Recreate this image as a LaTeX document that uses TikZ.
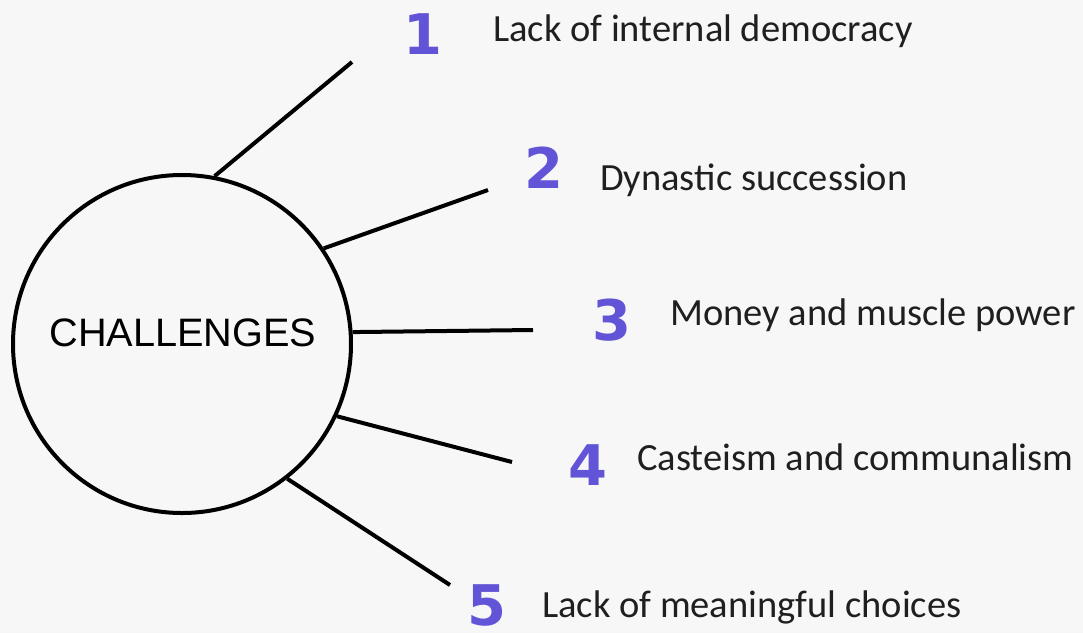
\documentclass[tikz,border=0pt]{standalone}
\usepackage{fontspec}
\setmainfont{Liberation Sans}
\newfontfamily\labelfont{Carlito}
\newfontfamily\numfont{DejaVu Sans}
\definecolor{bgc}{RGB}{247,247,247}
\definecolor{numc}{RGB}{98,84,214}
\begin{document}
\begin{tikzpicture}[x=1pt,y=-1pt,
  conn/.style={line width=4pt},
  numtxt/.style={text=numc,font=\numfont\bfseries\fontsize{56}{56}\selectfont,inner sep=0pt},
  itemtxt/.style={anchor=base west,inner sep=0pt,font=\labelfont\fontsize{38.5}{38.5}\selectfont,text=black!88}]
\fill[bgc] (0,0) rectangle (1083,633);
\useasboundingbox (0,0) rectangle (1083,633);
\node[circle,draw,line width=4pt,minimum size=338pt,inner sep=0pt] (circ) at (182,344) {};
\node (ctitle) at (183,333) {\fontsize{39.7}{40}\selectfont CHALLENGES};
\coordinate (e1) at (352,62);
\coordinate (e2) at (488,190);
\coordinate (e3) at (533,330);
\coordinate (e4) at (512,462);
\coordinate (e5) at (450,585);
\draw[conn] (circ.79) -- (e1);
\draw[conn] (circ.34) -- (e2);
\draw[conn] (circ.4.8) -- (e3);
\draw[conn] (circ.-25) -- (e4);
\draw[conn] (circ.-52) -- (e5);
\node[numtxt] (n1) at (423,34) {1};
\node[numtxt] (n2) at (544,168) {2};
\node[numtxt] (n3) at (612,320) {3};
\node[numtxt] (n4) at (588,465) {4};
\node[numtxt] (n5) at (487,605) {5};
\node[itemtxt] (t1) at (493,41) {Lack of internal democracy};
\node[itemtxt] (t2) at (600,190) {Dynastic succession};
\node[itemtxt] (t3) at (670,325) {Money and muscle power};
\node[itemtxt] (t4) at (637,470) {Casteism and communalism};
\node[itemtxt] (t5) at (542,617) {Lack of meaningful choices};
\end{tikzpicture}
\end{document}
